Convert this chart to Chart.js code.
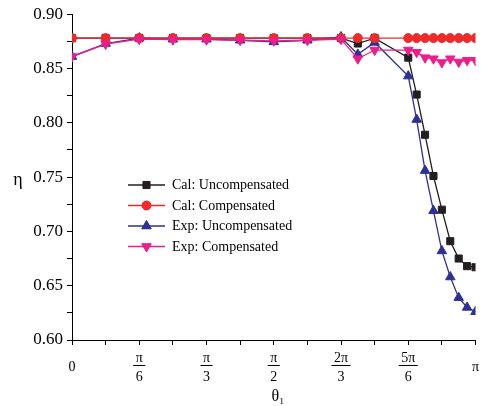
<!DOCTYPE html>
<html>
<head>
<meta charset="utf-8">
<script src="https://cdn.jsdelivr.net/npm/chart.js@4.4.0/dist/chart.umd.min.js"></script>
<style>
  html, body { margin: 0; padding: 0; background: #fff; overflow: hidden; }
  canvas { display: block; }
</style>
</head>
<body>
<canvas id="eff" width="482" height="406"></canvas>
<script>
// theta_1 in degrees (0 .. 180 = 0 .. pi)
const thetaDeg = [0, 15, 30, 45, 60, 75, 90, 105, 120, 127.5, 135,
  150, 153.75, 157.5, 161.25, 165, 168.75, 172.5, 176.25, 180];

const calUncomp = [0.878, 0.878, 0.878, 0.878, 0.878, 0.878, 0.878, 0.878, 0.878, 0.873, 0.878,
  0.860, 0.826, 0.789, 0.751, 0.720, 0.691, 0.675, 0.668, 0.667];
const calComp = [0.878, 0.878, 0.878, 0.878, 0.878, 0.878, 0.878, 0.878, 0.878, 0.878, 0.878,
  0.878, 0.878, 0.878, 0.878, 0.878, 0.878, 0.878, 0.878, 0.878];
const expUncomp = [0.861, 0.873, 0.878, 0.877, 0.877, 0.876, 0.8745, 0.876, 0.879, 0.863, 0.874,
  0.843, 0.803, 0.756, 0.719, 0.682, 0.658, 0.639, 0.630, 0.626];
const expComp = [0.861, 0.8725, 0.877, 0.8765, 0.8765, 0.876, 0.8755, 0.876, 0.877, 0.859, 0.867,
  0.867, 0.865, 0.860, 0.859, 0.8555, 0.859, 0.856, 0.8575, 0.8575];

const seriesNames = ["Cal: Uncompensated", "Cal: Compensated", "Exp: Uncompensated", "Exp: Compensated"];

// x tick labels: numerator / denominator
const xTickValues = [0, 30, 60, 90, 120, 150, 180];
const xTickNum = ["0", "π", "π", "π", "2π", "5π", "π"];
const xTickDen = ["", "6", "3", "2", "3", "6", ""];

const serif = '"Liberation Serif", "Times New Roman", serif';

const toPts = arr => thetaDeg.map((t, i) => ({ x: t, y: arr[i] }));

const styles = [
  { color: "#231f20", pointStyle: "rect", radius: 5, rotation: 0, order: 4 },
  { color: "#ee2a2a", pointStyle: "circle", radius: 4.5, rotation: 0, order: 2 },
  { color: "#2e3192", pointStyle: "triangle", radius: 5.5, rotation: 0, order: 3 },
  { color: "#ec1e8c", pointStyle: "triangle", radius: 5.5, rotation: 180, order: 1 }
];

const seriesData = [calUncomp, calComp, expUncomp, expComp];

const datasets = seriesData.map((arr, i) => ({
  label: seriesNames[i],
  data: toPts(arr),
  borderColor: styles[i].color,
  backgroundColor: styles[i].color,
  borderWidth: 1.3,
  pointStyle: styles[i].pointStyle,
  pointRadius: styles[i].radius,
  pointRotation: styles[i].rotation,
  pointBorderWidth: 1,
  pointBackgroundColor: styles[i].color,
  pointBorderColor: styles[i].color,
  tension: 0,
  order: styles[i].order
}));

// legend inside the plot, fraction bars and axis titles
const extras = {
  id: "extras",
  afterDraw(chart) {
    const ctx = chart.ctx;
    const xs = chart.scales.x;
    ctx.save();

    // fraction bars under the pi numerators
    ctx.font = "14px " + serif;
    ctx.strokeStyle = "#000";
    ctx.lineWidth = 1;
    xTickValues.forEach((v, i) => {
      if (!xTickDen[i]) return;
      const px = xs.getPixelForValue(v);
      const w = ctx.measureText(xTickNum[i]).width + 5;
      ctx.beginPath();
      ctx.moveTo(px - w / 2, 365.5);
      ctx.lineTo(px + w / 2, 365.5);
      ctx.stroke();
    });

    // axis titles
    ctx.fillStyle = "#000";
    ctx.textAlign = "center";
    ctx.textBaseline = "middle";
    ctx.font = "18px " + serif;
    ctx.fillText("η", 18, 180);
    ctx.font = "16px " + serif;
    ctx.fillText("θ₁", 278, 397);

    // legend
    const rows = [185, 205.5, 226, 246.5];
    ctx.font = "14px " + serif;
    ctx.textAlign = "left";
    styles.forEach((s, i) => {
      const y = rows[i];
      ctx.strokeStyle = s.color;
      ctx.lineWidth = 1.5;
      ctx.beginPath();
      ctx.moveTo(128, y);
      ctx.lineTo(165, y);
      ctx.stroke();
      ctx.fillStyle = s.color;
      ctx.lineWidth = 1;
      Chart.helpers.drawPoint(ctx, { pointStyle: s.pointStyle, radius: s.radius, rotation: s.rotation, borderWidth: 1 }, 146.5, y);
      ctx.fill();
      ctx.fillStyle = "#000";
      ctx.fillText(seriesNames[i], 172, y + 0.5);
    });
    ctx.restore();
  }
};

new Chart(document.getElementById("eff"), {
  type: "line",
  data: { datasets },
  plugins: [extras],
  options: {
    responsive: false,
    animation: false,
    devicePixelRatio: 1,
    layout: { padding: { left: 0, top: 14, right: 3, bottom: 0 } },
    plugins: { legend: { display: false }, tooltip: { enabled: false } },
    scales: {
      x: {
        type: "linear",
        min: 0,
        max: 180,
        afterFit: s => { s.height = 66; s.paddingLeft = 0; s.paddingRight = 0; },
        border: { display: true, color: "#000", width: 1 },
        grid: { display: true, drawOnChartArea: false, drawTicks: true, tickLength: 5, color: "#000" },
        ticks: {
          stepSize: 15,
          autoSkip: false,
          maxRotation: 0,
          crossAlign: "center",
          padding: 13,
          color: "#000",
          font: { family: serif, size: 14, lineHeight: 1.36 },
          callback: v => {
            const i = xTickValues.indexOf(v);
            if (i < 0) return "";
            return xTickDen[i] ? [xTickNum[i], xTickDen[i]] : xTickNum[i];
          }
        }
      },
      y: {
        min: 0.6,
        max: 0.9,
        afterFit: s => { s.width = 72; },
        border: { display: true, color: "#000", width: 1 },
        grid: { display: true, drawOnChartArea: false, drawTicks: true, tickLength: 5, color: "#000" },
        ticks: {
          stepSize: 0.025,
          autoSkip: false,
          padding: 4,
          color: "#000",
          font: { family: serif, size: 17 },
          callback: v => (Math.round(v * 1000) % 50 === 0 ? v.toFixed(2) : "")
        }
      }
    }
  }
});
</script>
</body>
</html>
